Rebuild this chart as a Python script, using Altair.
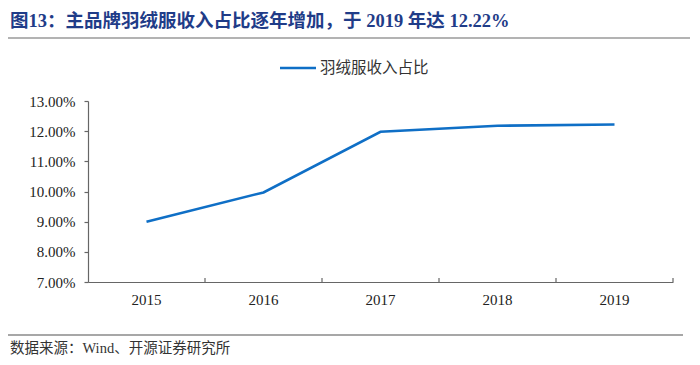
import altair as alt
import pandas as pd

years = ["2015", "2016", "2017", "2018", "2019"]
shares = [0.0900, 0.0997, 0.1198, 0.1218, 0.1222]
series_name = "羽绒服收入占比"
y_ticks = [0.07, 0.08, 0.09, 0.10, 0.11, 0.12, 0.13]
title_text = "图13：主品牌羽绒服收入占比逐年增加，于 2019 年达 12.22%"
source_text = "数据来源：Wind、开源证券研究所"

FONT = "Liberation Serif, Noto Sans CJK SC"
LINE_COLOR = "#0f6fc6"
AXIS_COLOR = "#666666"
W, H = 585, 181

df = pd.DataFrame({"year": years, "share": shares, "series": [series_name] * len(years)})

x_scale = alt.Scale(type="band", paddingInner=0, paddingOuter=0)
y_scale = alt.Scale(domain=[y_ticks[0], y_ticks[-1]], nice=False, zero=False)

line = alt.Chart(df).mark_line(color=LINE_COLOR, strokeWidth=2.6).encode(
    x=alt.X("year:O", bandPosition=0.5, scale=x_scale, sort=years,
            axis=alt.Axis(title=None, labelAngle=0, ticks=False, labelPadding=10,
                          labelFontSize=15, labelFont=FONT, labelColor="#222222",
                          domainColor=AXIS_COLOR, domainWidth=1.2)),
    y=alt.Y("share:Q", scale=y_scale,
            axis=alt.Axis(title=None, values=y_ticks, format=".2%", grid=False,
                          tickSize=4, tickColor=AXIS_COLOR, tickWidth=1.2,
                          domainColor=AXIS_COLOR, domainWidth=1.2,
                          labelPadding=9, labelFontSize=15, labelFont=FONT,
                          labelColor="#222222")),
)

xticks = alt.Chart(df).mark_rule(color=AXIS_COLOR, strokeWidth=1.2).encode(
    x=alt.X("year:O", bandPosition=1, scale=x_scale, sort=years),
    y=alt.value(H - 4),
    y2=alt.value(H),
)

title_df = pd.DataFrame({"t": [title_text]})
title = alt.Chart(title_df).mark_text(
    align="left", baseline="alphabetic", font=FONT, fontSize=18.5,
    fontWeight="bold", color="#1f3c88"
).encode(text="t:N", x=alt.value(-78), y=alt.value(-74))

title_rule = alt.Chart(title_df).mark_rule(color="#9a9a9a", strokeWidth=1.5).encode(
    x=alt.value(-80), x2=alt.value(602), y=alt.value(-63)
)

legend_df = pd.DataFrame({"t": [series_name]})
legend_line = alt.Chart(legend_df).mark_rule(color=LINE_COLOR, strokeWidth=2.6).encode(
    x=alt.value(192), x2=alt.value(228), y=alt.value(-33)
)
legend_text = alt.Chart(legend_df).mark_text(
    align="left", baseline="middle", font=FONT, fontSize=15.5, color="#333333"
).encode(text="t:N", x=alt.value(232), y=alt.value(-33))

source_df = pd.DataFrame({"t": [source_text]})
source_rule = alt.Chart(source_df).mark_rule(color="#8a8a8a", strokeWidth=1.5).encode(
    x=alt.value(-80), x2=alt.value(595), y=alt.value(234)
)
source = alt.Chart(source_df).mark_text(
    align="left", baseline="middle", font=FONT, fontSize=14.5, color="#333333"
).encode(text="t:N", x=alt.value(-78), y=alt.value(248))

chart = alt.layer(
    line, xticks, title, title_rule, legend_line, legend_text, source_rule, source
).properties(
    width=W, height=H,
    autosize=alt.AutoSizeParams(type="none"),
    padding={"left": 80, "top": 93, "right": 19, "bottom": 75},
    background="white",
).configure_view(stroke=None)

chart.save("out.html", embed_options={"renderer": "svg", "actions": False})
